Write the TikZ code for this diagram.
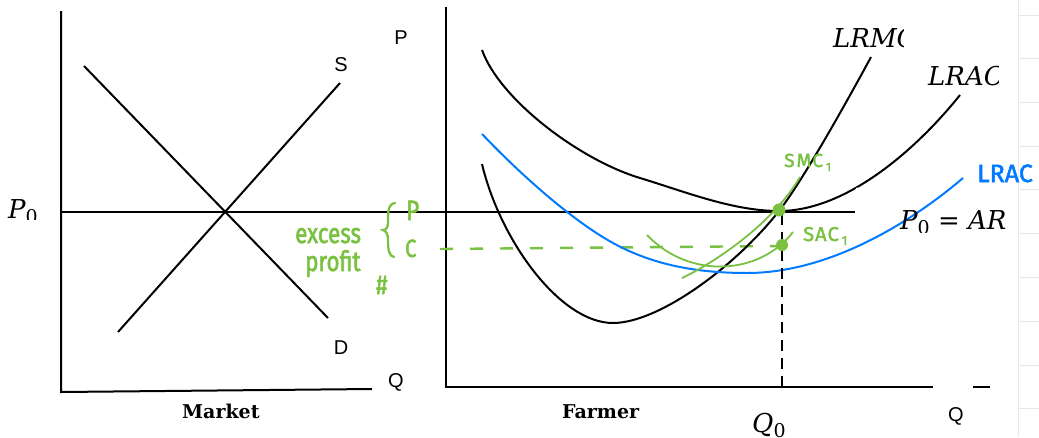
\documentclass[tikz,border=0pt]{standalone}
\usepackage{fontspec}
\newfontfamily\arialf{Liberation Sans}
\newfontfamily\serifm{DejaVu Serif}
\newfontfamily\hand[FakeStretch=0.8,FakeBold=2]{Fira Sans}
\newfontfamily\handw[FakeBold=2]{Fira Sans}
\definecolor{hgreen}{RGB}{122,193,66}
\definecolor{hblue}{RGB}{0,122,255}
\newcommand{\subz}{\raisebox{-5pt}{\fontsize{19}{19}\selectfont\upshape 0}}
\tikzset{
  axisline/.style={line width=2pt, black},
  curve/.style={line width=2pt, black},
  bluecurve/.style={line width=2pt, hblue},
  greencurve/.style={line width=1.8pt, hgreen},
  lbl/.style={inner sep=0pt, anchor=base west},
  sanslbl/.style={inner sep=0pt, font=\arialf\fontsize{20}{22}\selectfont},
  mathlbl/.style={inner sep=0pt, anchor=base west, font=\serifm\itshape\fontsize{26}{28}\selectfont},
  paneltitle/.style={inner sep=0pt, anchor=base west, font=\serifm\bfseries\fontsize{19}{21}\selectfont},
  handlbl/.style={inner sep=0pt, anchor=base west, text=hgreen},
  gridline/.style={line width=0.8pt, black!9}
}
\begin{document}
\begin{tikzpicture}[x=1pt,y=-1pt]
\useasboundingbox (0,0) rectangle (1039,437);
% notebook grid
\draw[gridline] (1018,0) -- (1018,437);
\foreach \yy in {15,58.5,102,146,189.5,233,277,321,365,408}
  \draw[gridline] (1018,\yy) -- (1039,\yy);

% ---------------- Market panel
\coordinate (mO) at (61,392);
\coordinate (mTop) at (61,11);
\coordinate (mQ) at (372,389);
\draw[axisline] (mTop) -- (mO) -- (mQ);
\coordinate (dA) at (84,66);  \coordinate (dB) at (328,318);
\coordinate (sA) at (118,332); \coordinate (sB) at (340,83);
\draw[curve] (dA) -- (dB);
\draw[curve] (sA) -- (sB);
\node[sanslbl] (lS) at (341,64.5) {S};
\node[sanslbl] (lD) at (341,348) {D};
\node[sanslbl] (lQ1) at (396,382) {Q};
\node[sanslbl] (lP) at (401,38) {P};
\node[paneltitle] (lMarket) at (182,418) {Market};
\begin{scope}
  \clip (0,0) rectangle (58,219);
  \node[mathlbl] (lP0) at (8,218) {P\subz};
\end{scope}

% P0 horizontal line
\coordinate (hA) at (61,212); \coordinate (hB) at (855,212);
\draw[axisline] (hA) -- (hB);

% ---------------- Farmer panel
\coordinate (fO) at (446,387);
\coordinate (fTop) at (446,7);
\coordinate (fQ) at (933,387);
\draw[axisline] (fTop) -- (fO) -- (fQ);
\coordinate (tA) at (973,387); \coordinate (tB) at (990,387);
\draw[axisline] (tA) -- (tB);

% green dashed cost line
\coordinate (gA) at (440,249); \coordinate (gB) at (782,246);
\draw[hgreen, line width=2.4pt, dash pattern=on 13pt off 17pt] (gA) -- (gB);

% LRAC (upper black)
\coordinate (acStart) at (482,50);
\coordinate (acMid) at (640,178);
\coordinate (acMin) at (779,211);
\coordinate (acEnd) at (960,95);
\draw[curve] (acStart) .. controls (500,100) and (580,160) .. (acMid)
  .. controls (686,192) and (733,211) .. (acMin)
  .. controls (849,211) and (920,145) .. (acEnd);
\fill[white] (857.5,189.5) circle (2.0);
% LRMC
\coordinate (mcStart) at (482,164);
\coordinate (mcMin) at (613,323);
\coordinate (mcEnd) at (871,57);
\draw[curve] (mcStart) .. controls (500,240) and (560,323) .. (mcMin)
  .. controls (658,323) and (734,268) .. (acMin)
  .. controls (804,179) and (851,94) .. (mcEnd);
% blue LRAC
\coordinate (bStart) at (482,134);
\coordinate (bMid) at (613,243);
\coordinate (bMin) at (747,273);
\coordinate (bEnd) at (963,178);
\draw[bluecurve] (bStart) .. controls (522,176) and (573,221) .. (bMid)
  .. controls (653,265) and (697,273) .. (bMin)
  .. controls (827,273) and (908,225) .. (bEnd);

% dashed vertical at Q0
\coordinate (vA) at (782,214); \coordinate (vB) at (782,387);
\draw[line width=2pt, dash pattern=on 11pt off 7pt] (vA) -- (vB);

% green short-run curves
\coordinate (smcA) at (682,278); \coordinate (smcB) at (800,177);
\draw[greencurve] (smcA) .. controls (712,264) and (772,225) .. (smcB);
\coordinate (sacA) at (647,235); \coordinate (sacB) at (793,232);
\draw[greencurve] (sacA) .. controls (690,280) and (760,275) .. (sacB);
\fill[hgreen] (779,210) circle (6.5);
\fill[hgreen] (782,245) circle (6);

% labels farmer
\begin{scope}
  \clip (800,0) rectangle (903,60);
  \node[mathlbl] (lLRMC) at (833,47) {LRMC};
\end{scope}
\begin{scope}
  \clip (900,60) rectangle (998,100);
  \node[mathlbl] (lLRAC) at (928,85) {LRAC};
\end{scope}
\begin{scope}
  \clip (890,195) rectangle (1017,232);
  \node[mathlbl] (lP0AR) at (900,229) {P\subz\ {\upshape =} AR};
\end{scope}
\node[mathlbl] (lQ0) at (752,432) {Q\subz};
\node[sanslbl] (lQ2) at (956,416) {Q};
\node[paneltitle] (lFarmer) at (562,418) {Farmer};

% handwritten green annotations
\node[handlbl, font=\hand\fontsize{28}{30}\selectfont] (hExcess) at (295,243) {excess};
\node[handlbl, font=\hand\fontsize{28}{30}\selectfont] (hProfit) at (305,271) {profit};
\node[handlbl, font=\hand\fontsize{27}{29}\selectfont] (hHash) at (376,294) {\#};
\node[handlbl, font=\hand\fontsize{28}{30}\selectfont] (hP) at (406,220) {P};
\node[handlbl, font=\hand\fontsize{25}{27}\selectfont] (hC) at (405,257) {C};
\draw[hgreen, line width=2.3pt, line cap=round] (395,203) .. controls (388,204) and (388,212) .. (388,222) .. controls (388,228) and (386,230) .. (383,230) .. controls (386,231) and (388,234) .. (388,240) .. controls (388,250) and (389,256) .. (394,257);
\node[handlbl, font=\handw\fontsize{19}{21}\selectfont] (hSMC) at (784,167) {S\hspace{2pt}M\hspace{1pt}C\hspace{3pt}\raisebox{-4pt}{\fontsize{12}{12}\selectfont 1}};
\node[handlbl, font=\handw\fontsize{20}{22}\selectfont] (hSAC) at (803,241) {S\hspace{1pt}A\hspace{1pt}C\hspace{3pt}\raisebox{-4pt}{\fontsize{13}{13}\selectfont 1}};
\node[lbl, text=hblue, font=\handw\fontsize{25}{27}\selectfont] (hLRAC) at (977,182) {LRAC};
\end{tikzpicture}
\end{document}
